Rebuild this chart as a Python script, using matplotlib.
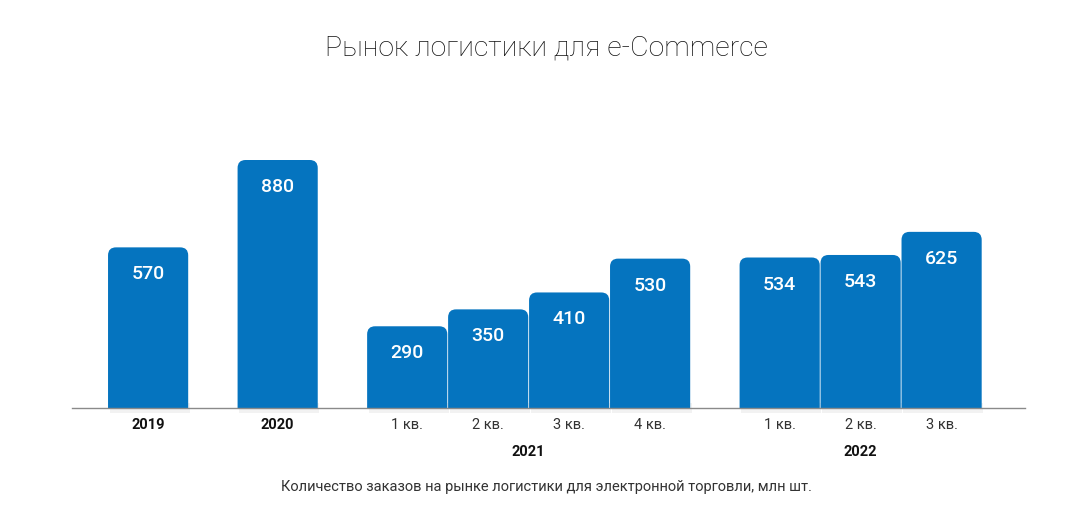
import matplotlib
matplotlib.use('Agg')
import matplotlib.pyplot as plt
from matplotlib.path import Path
from matplotlib.patches import PathPatch, Rectangle

plt.rcParams['font.family'] = ['Roboto', 'DejaVu Sans']

# данные
group_names = ['2019', '2020', '2021', '2022']
group_sizes = [1, 1, 4, 3]
bar_labels = ['2019', '2020', '1 кв.', '2 кв.', '3 кв.', '4 кв.', '1 кв.', '2 кв.', '3 кв.']
values = [570, 880, 290, 350, 410, 530, 534, 543, 625]

title = 'Рынок логистики для e-Commerce'
caption = 'Количество заказов на рынке логистики для электронной торговли, млн шт.'

BLUE = '#0574bf'
GAP = 1.6
WIDTH = 0.99

# позиции столбцов
positions = []
group_centers = []
x = 0.0
for gi, n in enumerate(group_sizes):
    if gi > 0:
        x += GAP - 1
    xs = [x + k for k in range(n)]
    positions += xs
    group_centers.append(sum(xs) / n)
    x = xs[-1] + 1

fig = plt.figure(figsize=(10.92, 5.2), dpi=100)
ax = fig.add_axes([72 / 1092, 112 / 520, 953 / 1092, 308 / 520])
xmin, xmax = -0.94, 10.83
ymax = 880 * 308 / 248
ax.set_xlim(xmin, xmax)
ax.set_ylim(0, ymax)

# пересчёт радиуса скругления из пикселей в единицы данных
px_x = 953 / (xmax - xmin)
px_y = 308 / ymax
rx = 8 / px_x
ry = 8 / px_y


def rounded_bar(left, w, h):
    verts = [(left, 0), (left, h - ry), (left, h), (left + rx, h),
             (left + w - rx, h), (left + w, h), (left + w, h - ry),
             (left + w, 0), (left, 0)]
    codes = [Path.MOVETO, Path.LINETO, Path.CURVE3, Path.CURVE3,
             Path.LINETO, Path.CURVE3, Path.CURVE3, Path.LINETO, Path.CLOSEPOLY]
    return Path(verts, codes)


for xp, v in zip(positions, values):
    left = xp - WIDTH / 2
    # лёгкая тень
    ax.add_patch(Rectangle((left + 0.02, -5 / px_y), WIDTH, 10 / px_y, facecolor='#000000',
                           alpha=0.05, linewidth=0, zorder=1, clip_on=False))
    ax.add_patch(PathPatch(rounded_bar(left, WIDTH, v), facecolor=BLUE,
                           edgecolor='none', zorder=2))
    ax.text(xp, v - 27 / px_y, str(v), ha='center', va='center', color='white',
            fontsize=14, fontweight='medium', zorder=3)

ax.axhline(0, color='#8a8a8a', linewidth=1, zorder=4, clip_on=False)

for spine in ax.spines.values():
    spine.set_visible(False)
ax.set_yticks([])
ax.set_xticks([])

# подписи категорий
for xp, lab in zip(positions, bar_labels):
    is_year = lab in group_names
    ax.text(xp, -17 / px_y, lab, ha='center', va='center', fontsize=10.5,
            fontweight='bold' if is_year else 'normal',
            color='#111111' if is_year else '#333333')

for name, n, c in zip(group_names, group_sizes, group_centers):
    if n > 1:
        ax.text(c, -44 / px_y, name, ha='center', va='center',
                fontsize=10.5, fontweight='bold', color='#111111')

fig.text(546 / 1092, 1 - 48 / 520, title, ha='center', va='center',
         fontsize=20.5, fontweight='light', color='#111111')
fig.text(546 / 1092, 1 - 487 / 520, caption, ha='center', va='center',
         fontsize=10.5, color='#333333')

fig.savefig('out.png', dpi=100, facecolor='white')
